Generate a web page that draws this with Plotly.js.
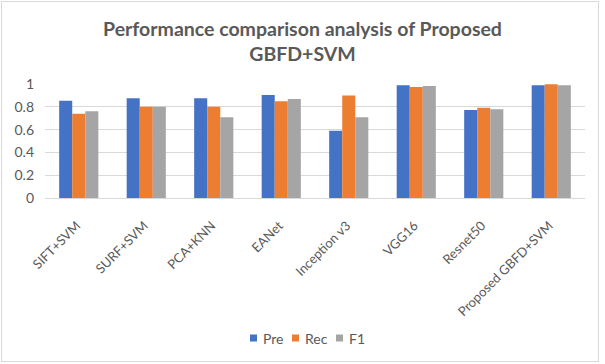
<!DOCTYPE html>
<html>
<head>
<meta charset="utf-8">
<script src="https://cdn.plot.ly/plotly-3.0.1.min.js"></script>
<style>
  html, body { margin: 0; padding: 0; background: #fff; }
  #frame { position: absolute; left: 1px; top: 1px; width: 596px; height: 359px; border: 1px solid #d9d9d9; }
  #chart { position: absolute; left: 0; top: 0; width: 605px; height: 364px; }
</style>
</head>
<body>
<div id="frame"></div>
<div id="chart"></div>
<script>
const categories = ["SIFT+SVM", "SURF+SVM", "PCA+KNN", "EANet", "Inception v3", "VGG16", "Resnet50", "Proposed GBFD+SVM"];
const pre = [0.854, 0.874, 0.874, 0.903, 0.59, 0.988, 0.772, 0.988];
const rec = [0.74, 0.80, 0.80, 0.848, 0.90, 0.974, 0.792, 0.997];
const f1  = [0.76, 0.80, 0.708, 0.868, 0.708, 0.982, 0.778, 0.988];
const seriesNames = ["Pre", "Rec", "F1"];
const colors = ["#4472C4", "#ED7D31", "#A5A5A5"];

const data = [pre, rec, f1].map((vals, i) => ({
  type: "bar",
  x: categories,
  y: vals,
  name: seriesNames[i],
  marker: { color: colors[i] }
}));

// plot area geometry (px) used for the compact Excel-style legend
const W = 605, H = 364, ML = 45, MR = 20, MT = 84, MB = 166;
const pw = W - ML - MR, ph = H - MT - MB;
const px = v => (v - ML) / pw;
const py = v => (H - MB - v) / ph;

const legendX = [250, 292, 336];   // left edge of each legend square (px)
const legendY = 338;
const sq = 7;
const font = "Lato, 'Open Sans', sans-serif";

const shapes = seriesNames.map((n, i) => ({
  type: "rect", xref: "paper", yref: "paper",
  x0: px(legendX[i]), x1: px(legendX[i] + sq),
  y0: py(legendY + sq / 2), y1: py(legendY - sq / 2),
  fillcolor: colors[i], line: { width: 0 }
}));
const annotations = seriesNames.map((n, i) => ({
  xref: "paper", yref: "paper",
  x: px(legendX[i] + sq + 4), y: py(legendY),
  xanchor: "left", yanchor: "middle",
  text: n, showarrow: false,
  font: { family: font, size: 14, color: "#595959" }
}));

const layout = {
  width: W,
  height: H,
  margin: { l: ML, r: MR, t: MT, b: MB },
  paper_bgcolor: "rgba(0,0,0,0)",
  plot_bgcolor: "rgba(0,0,0,0)",
  font: { family: font, size: 13, color: "#595959" },
  title: {
    text: "Performance comparison analysis of Proposed<br>GBFD+SVM",
    font: { family: font, size: 19.5, color: "#595959", weight: "bold" },
    x: 0.5, xref: "container", xanchor: "center",
    y: 1 - 36 / 364, yref: "container", yanchor: "middle"
  },
  barmode: "group",
  bargap: 0.42,
  bargroupgap: 0,
  xaxis: {
    type: "category",
    tickangle: -45,
    showgrid: false,
    showline: true,
    linecolor: "#d9d9d9",
    linewidth: 1,
    ticks: "",
    ticklabelstandoff: 14,
    ticklabelshift: -2,
    tickfont: { family: font, size: 13, color: "#595959" }
  },
  yaxis: {
    range: [0, 1],
    dtick: 0.2,
    showgrid: true,
    gridcolor: "#d9d9d9",
    gridwidth: 1,
    zeroline: false,
    showline: false,
    ticks: "",
    ticklabelstandoff: 10,
    tickfont: { family: font, size: 14, color: "#595959" }
  },
  showlegend: false,
  shapes: shapes,
  annotations: annotations
};

Plotly.newPlot("chart", data, layout, { displayModeBar: false, staticPlot: true });
</script>
</body>
</html>
